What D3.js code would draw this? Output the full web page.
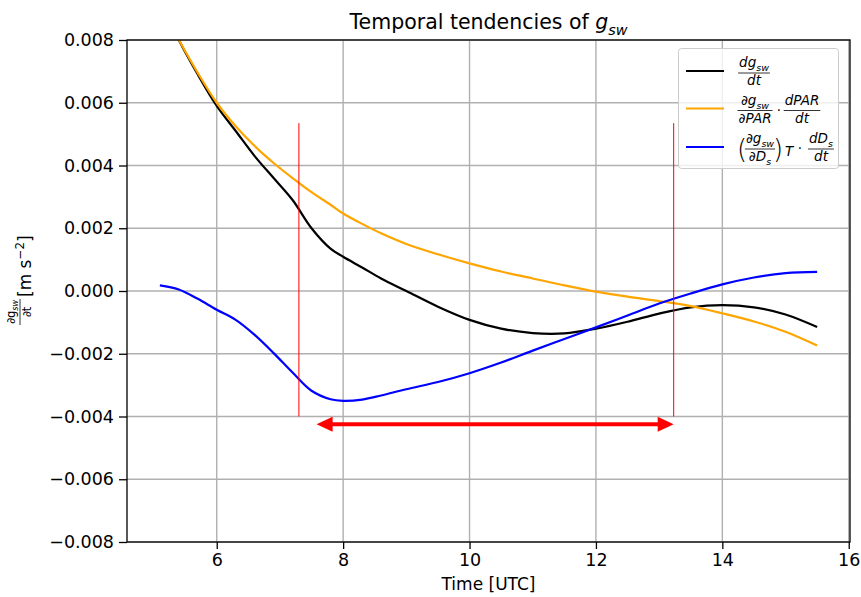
<!DOCTYPE html>
<html>
<head>
<meta charset="utf-8">
<script src="https://cdn.jsdelivr.net/npm/d3@7"></script>
<style>
  body { margin: 0; background: #fff; }
  svg text { font-family: "DejaVu Sans", sans-serif; }
</style>
</head>
<body>
<script>

// hours (UTC)
var times = [5.1, 5.4, 5.7, 6.0, 6.3, 6.6, 6.9, 7.2, 7.5, 7.8, 8.0, 8.3, 8.6, 9.0, 9.5,
             10.0, 10.5, 11.0, 11.5, 12.0, 12.5, 13.0, 13.5, 14.0, 14.5, 15.0, 15.5];

// dg_sw/dt
var dgdt = [0.0093, 0.0080, 0.0069, 0.0059, 0.0051, 0.0043, 0.0036, 0.0029, 0.0020, 0.00135,
            0.00109, 0.00075, 0.00040, 0.00000, -0.00050, -0.00092, -0.00120, -0.00134, -0.00135,
            -0.00120, -0.00098, -0.00072, -0.00052, -0.00045, -0.00052, -0.00075, -0.00115];

// dg/dPAR * dPAR/dt
var parTerm = [0.0091, 0.0080, 0.00695, 0.0060, 0.00525, 0.00462, 0.00408, 0.0036, 0.00315, 0.00275,
               0.00247, 0.00214, 0.00184, 0.00150, 0.00117, 0.00088, 0.00062, 0.00040, 0.00018,
               -0.00002, -0.00018, -0.00032, -0.00048, -0.00071, -0.00097, -0.00130, -0.00174];

// (dg/dDs)_T * dDs/dt
var dsTerm = [0.00018, 0.00005, -0.00025, -0.00060, -0.00092, -0.00140, -0.00198, -0.00260, -0.00318,
              -0.00345, -0.00350, -0.00346, -0.00333, -0.00313, -0.00290, -0.00262, -0.00228, -0.00190,
              -0.00153, -0.00116, -0.00078, -0.00040, -0.00008, 0.00021, 0.00043, 0.00057, 0.00061];

var xTicks = [6, 8, 10, 12, 14, 16];
var yTicks = [-0.008, -0.006, -0.004, -0.002, 0, 0.002, 0.004, 0.006, 0.008];

// red markers
var markTimes = [7.3, 13.23];
var markRange = [-0.004, 0.00535];
var arrowSpan = [7.58, 13.23];
var arrowLevel = -0.00425;

var width = 861, height = 597;
var margin = { top: 40, right: 11, bottom: 55, left: 127 };

var svg = d3.select('body').append('svg')
    .attr('width', width)
    .attr('height', height);

var x = d3.scaleLinear().domain([4.58, 16.02]).range([margin.left, width - margin.right]);
var y = d3.scaleLinear().domain([-0.008, 0.008]).range([height - margin.bottom, margin.top]);

svg.append('defs').append('clipPath').attr('id', 'clip')
  .append('rect')
    .attr('x', margin.left).attr('y', margin.top)
    .attr('width', width - margin.left - margin.right)
    .attr('height', height - margin.top - margin.bottom);

// grid
svg.append('g')
  .selectAll('line').data(xTicks).enter().append('line')
    .attr('x1', d => x(d)).attr('x2', d => x(d))
    .attr('y1', margin.top).attr('y2', height - margin.bottom)
    .attr('stroke', '#b0b0b0').attr('stroke-width', 1.4);
svg.append('g')
  .selectAll('line').data(yTicks).enter().append('line')
    .attr('x1', margin.left).attr('x2', width - margin.right)
    .attr('y1', d => y(d)).attr('y2', d => y(d))
    .attr('stroke', '#b0b0b0').attr('stroke-width', 1.4);

var fmt = d => d3.format('.3f')(d).replace('-', '\u2212');

var xAxis = svg.append('g')
    .attr('transform', 'translate(0,' + (height - margin.bottom) + ')')
    .call(d3.axisBottom(x).tickValues(xTicks).tickFormat(d3.format('d')).tickSize(7).tickPadding(5));
var yAxis = svg.append('g')
    .attr('transform', 'translate(' + margin.left + ',0)')
    .call(d3.axisLeft(y).tickValues(yTicks).tickFormat(fmt).tickSize(8).tickPadding(5));

[xAxis, yAxis].forEach(function(a) {
  a.select('.domain').remove();
  a.selectAll('line').attr('stroke', '#000').attr('stroke-width', 1.3);
  a.selectAll('text').attr('font-size', 17.5).attr('fill', '#000')
    .style('font-family', '"DejaVu Sans", sans-serif');
});

// lines
var series = [
  { values: dgdt, color: '#000000' },
  { values: parTerm, color: '#ffa500' },
  { values: dsTerm, color: '#0000ff' }
];

var line = d3.line()
    .x(function(d) { return x(d[0]); })
    .y(function(d) { return y(d[1]); })
    .curve(d3.curveCatmullRom);

var plot = svg.append('g').attr('clip-path', 'url(#clip)');
series.forEach(function(s) {
  plot.append('path')
    .datum(times.map(function(t, i) { return [t, s.values[i]]; }))
    .attr('d', line)
    .attr('fill', 'none')
    .attr('stroke', s.color)
    .attr('stroke-width', 2.2);
});

// red vertical markers
plot.selectAll('.mark').data(markTimes).enter().append('line')
    .attr('x1', d => x(d)).attr('x2', d => x(d))
    .attr('y1', y(markRange[0])).attr('y2', y(markRange[1]))
    .attr('stroke', '#ff0000').attr('stroke-width', 1);

// double arrow
var ay = y(arrowLevel);
var hl = 16, hw = 7.5;
plot.append('line')
    .attr('x1', x(arrowSpan[0]) + hl - 2).attr('x2', x(arrowSpan[1]) - hl + 2)
    .attr('y1', ay).attr('y2', ay)
    .attr('stroke', '#ff0000').attr('stroke-width', 4);
plot.append('path')
    .attr('d', 'M' + x(arrowSpan[0]) + ',' + ay + 'l' + hl + ',' + (-hw) + 'v' + (2 * hw) + 'z')
    .attr('fill', '#ff0000');
plot.append('path')
    .attr('d', 'M' + x(arrowSpan[1]) + ',' + ay + 'l' + (-hl) + ',' + (-hw) + 'v' + (2 * hw) + 'z')
    .attr('fill', '#ff0000');

// frame
svg.append('rect')
    .attr('x', margin.left).attr('y', margin.top)
    .attr('width', width - margin.left - margin.right)
    .attr('height', height - margin.top - margin.bottom)
    .attr('fill', 'none').attr('stroke', '#000').attr('stroke-width', 1.3);

// text helpers: parts = [[text, 'sub'|'sup'|'', italic]]
function mathText(g, px, py, parts, size, anchor) {
  var t = g.append('text')
      .attr('x', px).attr('y', py)
      .attr('font-size', size)
      .attr('text-anchor', anchor || 'start');
  var shift = 0;
  parts.forEach(function(p) {
    var ts = t.append('tspan').text(p[0]);
    var target = p[1] === 'sub' ? size * 0.28 : (p[1] === 'sup' ? -size * 0.4 : 0);
    if (target !== shift) { ts.attr('dy', target - shift); shift = target; }
    if (p[1]) ts.attr('font-size', size * 0.7);
    if (p[2]) ts.attr('font-style', 'italic');
  });
  return t;
}

function frac(g, cx, barY, num, den, size) {
  var a = mathText(g, cx, barY - size * 0.42, num, size, 'middle');
  var b = mathText(g, cx, barY + size * 0.92, den, size, 'middle');
  var w = Math.max(a.node().getComputedTextLength(), b.node().getComputedTextLength()) + 2;
  g.append('line')
    .attr('x1', cx - w / 2).attr('x2', cx + w / 2)
    .attr('y1', barY).attr('y2', barY)
    .attr('stroke', '#000').attr('stroke-width', 0.8);
}

// title
mathText(svg, (margin.left + width - margin.right) / 2, 29,
  [['Temporal tendencies of ', '', false], ['g', '', true], ['sw', 'sub', true]], 20.5, 'middle');

// x label
svg.append('text')
    .attr('x', (margin.left + width - margin.right) / 2).attr('y', 590)
    .attr('text-anchor', 'middle').attr('font-size', 17)
    .text('Time [UTC]');

// y label (rotated)
var yl = svg.append('g').attr('transform', 'translate(31,276) rotate(-90)');
frac(yl, -36, -11, [['\u2202g', '', false], ['sw', 'sub', true]], [['\u2202t', '', false]], 11.5);
mathText(yl, -21, 0, [['[m s', '', false], ['\u22122', 'sup', false], [']', '', false]], 17, 'start');

// legend
var lg = svg.append('g');
lg.append('rect')
    .attr('x', 678.5).attr('y', 48.5).attr('width', 160).attr('height', 120).attr('rx', 3)
    .attr('fill', '#fff').attr('fill-opacity', 0.8)
    .attr('stroke', '#cccccc').attr('stroke-width', 1);

var legY = [71, 108.5, 147];
lg.selectAll('.key').data(series).enter().append('line')
    .attr('x1', 686).attr('x2', 724)
    .attr('y1', (d, i) => legY[i]).attr('y2', (d, i) => legY[i])
    .attr('stroke', d => d.color).attr('stroke-width', 2.2);

var ms = 13.5;
var sw = [['sw', 'sub', true]];
// 1: dg/dt
frac(lg, 754, legY[0] + 2, [['dg', '', true]].concat(sw), [['dt', '', true]], ms);
// 2: dg/dPAR * dPAR/dt
frac(lg, 755, legY[1] + 2, [['\u2202g', '', true]].concat(sw), [['\u2202PAR', '', true]], ms);
mathText(lg, 779, legY[1] + 6, [['\u00b7', '', false]], ms, 'middle');
frac(lg, 802, legY[1] + 2, [['dPAR', '', true]], [['dt', '', true]], ms);
// 3: (dg/dDs)_T * dDs/dt
lg.append('text').attr('x', 742).attr('y', legY[2] + 11).attr('font-size', 26)
    .attr('text-anchor', 'middle').attr('font-weight', 200).text('(');
frac(lg, 760, legY[2] + 2, [['\u2202g', '', true]].concat(sw), [['\u2202D', '', true], ['s', 'sub', true]], ms);
lg.append('text').attr('x', 778).attr('y', legY[2] + 11).attr('font-size', 26)
    .attr('text-anchor', 'middle').attr('font-weight', 200).text(')');
mathText(lg, 789, legY[2] + 9, [['T', '', true]], ms, 'middle');
mathText(lg, 800, legY[2] + 6, [['\u00b7', '', false]], ms, 'middle');
frac(lg, 821, legY[2] + 2, [['dD', '', true], ['s', 'sub', true]], [['dt', '', true]], ms);

</script>
</body>
</html>
